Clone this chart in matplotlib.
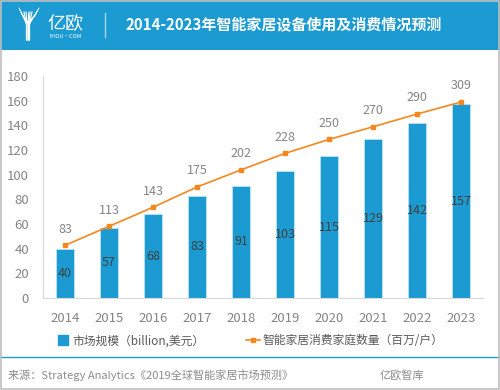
import matplotlib
matplotlib.use("Agg")
import matplotlib.pyplot as plt
from matplotlib.patches import Rectangle
from matplotlib.lines import Line2D

plt.rcParams['font.family'] = ['Noto Sans CJK SC', 'DejaVu Sans']

# data
years = ['2014', '2015', '2016', '2017', '2018', '2019', '2020', '2021', '2022', '2023']
market_size = [40, 57, 68, 83, 91, 103, 115, 129, 142, 157]
households = [83, 113, 143, 175, 202, 228, 250, 270, 290, 309]
y_ticks = [0, 20, 40, 60, 80, 100, 120, 140, 160, 180]

title = '2014-2023年智能家居设备使用及消费情况预测'
bar_label = '市场规模（billion,美元）'
line_label = '智能家居消费家庭数量（百万/户）'
source = '来源：Strategy Analytics《2019全球智能家居市场预测》'

BLUE = '#1B9BD1'
ORANGE = '#F5871F'
GRAY = '#858585'

fig = plt.figure(figsize=(5, 3.9), dpi=100)

# header banner
fig.patches.append(Rectangle((0, 1 - 50 / 390), 1, 50 / 390, transform=fig.transFigure,
                             facecolor=BLUE, edgecolor='none', zorder=0))
# outer border
fig.patches.append(Rectangle((0.002, 0.002), 0.996, 0.996, transform=fig.transFigure,
                             facecolor='none', edgecolor='#BFBFBF', linewidth=1.2, zorder=5))

# simple logo strokes
for dx in (-4, -2, 0, 2, 4):
    fig.add_artist(Line2D([(28 + dx) / 500, (28 + dx * 0.4) / 500, (28 + dx * 0.4) / 500],
                          [1 - 12 / 390, 1 - 24 / 390, 1 - 40 / 390],
                          color='white', linewidth=0.8, transform=fig.transFigure))
for dx in (-4, -2, 0, 2, 4):
    fig.add_artist(Line2D([(21 + dx * 0.5) / 500, (28 + dx * 0.4) / 500],
                          [1 - (12 + dx) / 390, 1 - 24 / 390],
                          color='white', linewidth=0.6, transform=fig.transFigure))
    fig.add_artist(Line2D([(37 + dx * 0.5) / 500, (28 + dx * 0.4) / 500],
                          [1 - (12 - dx) / 390, 1 - 24 / 390],
                          color='white', linewidth=0.6, transform=fig.transFigure))
fig.text(47 / 500, 1 - 23 / 390, '亿欧', color='white', fontsize=13, va='center', ha='left')
fig.text(49 / 500, 1 - 36 / 390, 'IYIOU·COM', color='white', fontsize=4, va='center', ha='left')
fig.add_artist(Line2D([105 / 500, 105 / 500], [1 - 13 / 390, 1 - 37 / 390],
                      color='#A8D8EE', linewidth=1, transform=fig.transFigure))
fig.text(125 / 500, 1 - 24 / 390, title, color='white', fontsize=10.8, fontweight='bold',
         va='center', ha='left')

# main axes
ax = fig.add_axes([43 / 500, 92 / 390, 440 / 500, 222 / 390])
x = range(len(years))
bars = ax.bar(x, market_size, width=0.4, color=BLUE, edgecolor='#BDE3F4', linewidth=0.6,
              label=bar_label, zorder=2)
for xi, v in zip(x, market_size):
    ax.text(xi, v / 2, str(v), ha='center', va='center', fontsize=9, color='#404040', zorder=3)

ax.set_ylim(0, 180)
ax.set_xlim(-0.5, len(years) - 0.5)
ax.set_yticks(y_ticks)
ax.set_xticks(list(x))
ax.set_xticklabels(years)
ax.tick_params(axis='both', length=0, colors=GRAY, labelsize=9.5)
ax.tick_params(axis='x', pad=10)
ax.tick_params(axis='y', pad=10)
for s in ('top', 'right'):
    ax.spines[s].set_visible(False)
ax.spines['left'].set_color('#D9D9D9')
ax.spines['bottom'].set_color('#D9D9D9')

# secondary axis (hidden) for households
ax2 = ax.twinx()
ax2.set_ylim(0, 350)
line, = ax2.plot(list(x), households, color=ORANGE, linewidth=1.2, marker='s', markersize=3.5,
                 label=line_label, zorder=4)
for xi, v in zip(x, households):
    ax2.annotate(str(v), (xi, v), xytext=(0, 7), textcoords='offset points',
                 ha='center', va='bottom', fontsize=9, color=GRAY)
ax2.set_yticks([])
for s in ax2.spines.values():
    s.set_visible(False)

handles = [Line2D([], [], marker='s', linestyle='none', color=BLUE, markersize=7), line]
fig.legend(handles, [bar_label, line_label], loc='center', bbox_to_anchor=(0.5, 1 - 341 / 390),
           ncol=2, frameon=False, fontsize=8.5, labelcolor='#595959', handlelength=1.2,
           handletextpad=0.2, columnspacing=3.5)

# footer
fig.add_artist(Line2D([0, 1], [1 - 357 / 390, 1 - 357 / 390], color=BLUE, linewidth=1,
                      transform=fig.transFigure))
fig.text(8 / 500, 1 - 375 / 390, source, fontsize=8, color='#8C8C8C', va='center', ha='left')
fig.text(380 / 500, 1 - 375 / 390, '亿欧智库', fontsize=8, color='#8C8C8C', va='center', ha='left')

fig.savefig('out.png', dpi=100)
